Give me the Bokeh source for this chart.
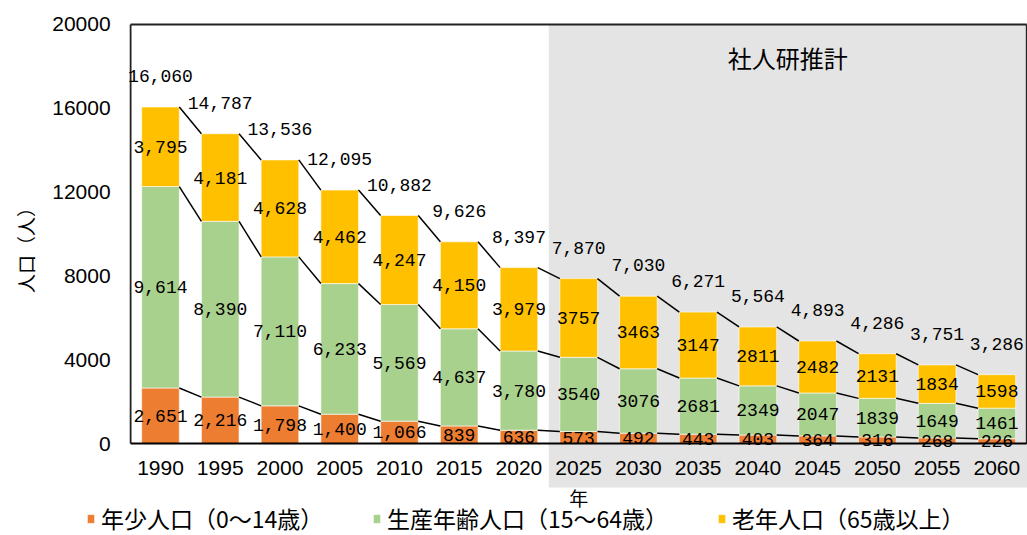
from bokeh.plotting import figure
from bokeh.models import (Range1d, BoxAnnotation, Label, Legend, LegendItem,
                          ColumnDataSource)
from bokeh.core.properties import value
from bokeh.embed import file_html
from bokeh.resources import INLINE
import math

# ---- data ----
years = ["1990", "1995", "2000", "2005", "2010", "2015", "2020", "2025",
         "2030", "2035", "2040", "2045", "2050", "2055", "2060"]
young = [2651, 2216, 1798, 1400, 1066, 839, 636, 573, 492, 443, 403, 364, 316, 268, 226]
working = [9614, 8390, 7110, 6233, 5569, 4637, 3780, 3540, 3076, 2681, 2349, 2047, 1839, 1649, 1461]
old = [3795, 4181, 4628, 4462, 4247, 4150, 3979, 3757, 3463, 3147, 2811, 2482, 2131, 1834, 1598]
totals = [16060, 14787, 13536, 12095, 10882, 9626, 8397, 7870, 7030, 6271, 5564, 4893, 4286, 3751, 3286]
n_hist = 7  # observed years; the rest are projections
y_ticks = [0, 4000, 8000, 12000, 16000, 20000]
y_tick_labels = [str(t) for t in y_ticks]
series_names = ["年少人口（0～14歳）", "生産年齢人口（15～64歳）", "老年人口（65歳以上）"]
colors = ["#ED7D31", "#A9D18E", "#FFC000"]

idx = list(range(len(years)))
c1 = young
c2 = [a + b for a, b in zip(young, working)]
c3 = [a + b + c for a, b, c in zip(young, working, old)]

def fmt(v, i):
    return f"{v:,}" if i < n_hist else str(v)

src = ColumnDataSource(dict(
    x=idx, years=years,
    b0=[0] * len(idx), c1=c1, c2=c2, c3=c3, totals=totals,
    m1=[v / 2 for v in c1],
    m2=[(a + b) / 2 for a, b in zip(c1, c2)],
    m3=[(a + b) / 2 for a, b in zip(c2, c3)],
    l1=[fmt(v, i) for i, v in enumerate(young)],
    l2=[fmt(v, i) for i, v in enumerate(working)],
    l3=[fmt(v, i) for i, v in enumerate(old)],
    lt=[f"{v:,}" for v in totals],
))
tick_src = ColumnDataSource(dict(x=[-0.5] * len(y_ticks), y=y_ticks, t=y_tick_labels))

BW = 0.63
X0, X1 = -0.5, len(years) - 0.5
YMAX = y_ticks[-1]
NUMF = value("Liberation Mono")
TICKF = value("Liberation Sans")
JPF = "Noto Sans CJK JP"

# whole canvas is the plot frame so that outside texts are not clipped
p = figure(width=1027, height=535,
           x_range=Range1d(-2.678, 14.513), y_range=Range1d(-4391, 21145),
           output_backend="svg", toolbar_location=None,
           x_axis_location=None, y_axis_location=None,
           min_border_left=0, min_border_right=0, min_border_top=0,
           min_border_bottom=0)
p.outline_line_color = None
p.xgrid.grid_line_color = None
p.ygrid.grid_line_color = None

# forecast shading
p.add_layout(BoxAnnotation(left=6.5, top=YMAX, bottom=-2100, fill_color="#E4E4E4",
                           fill_alpha=1, line_color=None, level="underlay"))

# bars
r1 = p.vbar(x="x", bottom="b0", top="c1", width=BW, source=src,
            fill_color=colors[0], line_color="white", line_width=0.6)
r2 = p.vbar(x="x", bottom="c1", top="c2", width=BW, source=src,
            fill_color=colors[1], line_color="white", line_width=0.6)
r3 = p.vbar(x="x", bottom="c2", top="c3", width=BW, source=src,
            fill_color=colors[2], line_color="white", line_width=0.6)

# series lines
for lvl in (c1, c2, c3):
    p.segment(x0=[i + BW / 2 for i in idx[:-1]], y0=lvl[:-1],
              x1=[i + 1 - BW / 2 for i in idx[:-1]], y1=lvl[1:],
              line_color="black", line_width=1.5)

# frame lines
p.segment(x0=[X0, X0, X1], y0=[YMAX, 0, 0], x1=[X1, X0, X1],
          y1=[YMAX, YMAX, YMAX], line_color="#222222", line_width=1.8)
p.segment(x0=[X0], y0=[0], x1=[X1], y1=[0], line_color="black", line_width=2.2)

# data labels
for col, ycol in (("l1", "m1"), ("l2", "m2"), ("l3", "m3")):
    p.text(x="x", y=ycol, text=col, source=src, text_font=NUMF,
           text_font_size="18px", text_align="center", text_baseline="middle",
           text_color="black")
p.text(x="x", y="totals", text="lt", source=src, text_font=NUMF,
       text_font_size="18px", text_align="center", text_baseline="middle",
       text_color="black", y_offset=-31)

# x tick labels
p.text(x="x", y="b0", text="years", source=src, text_font=TICKF,
       text_font_size="21px", text_align="center", text_baseline="middle",
       text_color="black", y_offset=24)
# y tick labels
p.text(x="x", y="y", text="t", source=tick_src, text_font=TICKF,
       text_font_size="21px", text_align="right", text_baseline="middle",
       text_color="black", x_offset=-20)

# axis titles and note
p.add_layout(Label(x=7, y=0, y_offset=-54, text="年", text_font=JPF,
                   text_font_size="19px", text_align="center",
                   text_baseline="middle", text_color="black"))
p.add_layout(Label(x=-2.26, y=9450, text="人口（人）", text_font=JPF,
                   text_font_size="19px", text_align="center",
                   text_baseline="middle", angle=math.pi / 2, text_color="black"))
p.add_layout(Label(x=10.5, y=18424, text="社人研推計", text_font=JPF,
                   text_font_size="24px", text_align="center",
                   text_baseline="middle", text_color="black"))

# legends
for r, name, vx in ((r1, series_names[0], 86),
                    (r2, series_names[1], 372),
                    (r3, series_names[2], 717)):
    leg = Legend(items=[LegendItem(label=name, renderers=[r])], location=(vx, 0),
                 orientation="horizontal", padding=0, margin=0, spacing=0,
                 border_line_color=None, background_fill_alpha=0,
                 label_text_font=JPF, label_text_font_size="23px",
                 label_text_color="black", glyph_width=9, glyph_height=11,
                 label_standoff=6, label_height=26)
    p.add_layout(leg)

open("out.html", "w").write(file_html(p, INLINE))
